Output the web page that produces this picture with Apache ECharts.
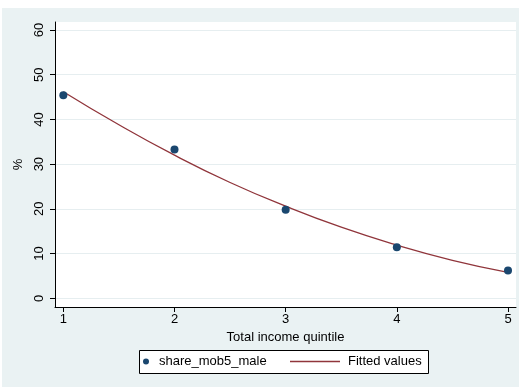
<!DOCTYPE html>
<html><head><meta charset="utf-8">
<script src="https://cdn.jsdelivr.net/npm/echarts@6/dist/echarts.min.js"></script>
<style>html,body{margin:0;padding:0;background:#fff}#c{width:521px;height:388px}</style>
</head><body><div id="c"></div>
<script>
var quintiles = [1, 2, 3, 4, 5];
var shareMob5Male = [45.4, 33.3, 19.8, 11.4, 6.2];
var fitX = [1, 1.5, 2, 2.5, 3, 3.5, 4, 4.5, 5];
var fittedValues = [46.2, 38.8, 32.0, 25.9, 20.6, 15.9, 11.9, 8.5, 5.8];
var xTicks = [1, 2, 3, 4, 5];
var yTicks = [0, 10, 20, 30, 40, 50, 60];

var font = 'Liberation Sans, Arial, sans-serif';
var chart = echarts.init(document.getElementById('c'), null, {renderer: 'canvas'});
chart.setOption({
  animation: false,
  backgroundColor: '#ffffff',
  graphic: [
    {type: 'rect', z: -10, shape: {x: 2, y: 8, width: 517, height: 379}, style: {fill: '#EAF2F3'}},
    {type: 'rect', z: -9, shape: {x: 55, y: 22, width: 461, height: 285}, style: {fill: '#ffffff'}},
    {type: 'rect', z: 5, shape: {x: 139.5, y: 350.5, width: 289, height: 23}, style: {fill: '#ffffff', stroke: '#000', lineWidth: 1}}
  ],
  grid: {left: 55, top: 22, right: 5, bottom: 81, containLabel: false},
  xAxis: {
    type: 'value', min: 0.925, max: 5.072,
    name: 'Total income quintile', nameLocation: 'middle', nameGap: 21,
    nameTextStyle: {fontFamily: font, fontSize: 13, color: '#000'},
    axisLine: {show: true, onZero: false, lineStyle: {color: '#000', width: 1}},
    axisTick: {show: true, length: 5, customValues: xTicks, lineStyle: {color: '#000'}},
    axisLabel: {customValues: xTicks, margin: 6, fontFamily: font, fontSize: 13, color: '#000'},
    splitLine: {show: false}
  },
  yAxis: {
    type: 'value', min: -1.95, max: 61.79,
    name: '%', nameLocation: 'middle', nameGap: 27, nameRotate: 90,
    nameTextStyle: {fontFamily: font, fontSize: 13, color: '#000'},
    axisLine: {show: true, onZero: false, lineStyle: {color: '#000', width: 1}},
    axisTick: {show: true, length: 5, customValues: yTicks, lineStyle: {color: '#000'}},
    axisLabel: {customValues: yTicks, rotate: 90, margin: 9, fontFamily: font, fontSize: 13, color: '#000'},
    splitLine: {show: true, lineStyle: {color: '#E6EEF0', width: 1}}
  },
  legend: [
    {data: [{name: 'share_mob5_male', icon: 'circle'}], left: 143, top: 355, itemWidth: 8, itemHeight: 6, itemGap: 0, padding: 0, z: 10,
     textStyle: {fontFamily: font, fontSize: 13, color: '#000', padding: [0, 0, 0, 4]}},
    {data: [{name: 'Fitted values', icon: 'rect'}], left: 290, top: 355, itemWidth: 50, itemHeight: 1.4, itemGap: 0, padding: 0, z: 10,
     itemStyle: {color: '#90353B', borderWidth: 0},
     textStyle: {fontFamily: font, fontSize: 13, color: '#000', padding: [0, 0, 0, 3]}}
  ],
  series: [
    {name: 'Fitted values', type: 'line', smooth: true, symbol: 'none', z: 2,
     lineStyle: {color: '#90353B', width: 1.3}, itemStyle: {color: '#90353B'},
     data: fitX.map(function (x, i) { return [x, fittedValues[i]]; })},
    {name: 'share_mob5_male', type: 'scatter', symbol: 'circle', symbolSize: 8, z: 3,
     itemStyle: {color: '#1A476F', opacity: 1},
     data: quintiles.map(function (x, i) { return [x, shareMob5Male[i]]; })}
  ]
});
</script></body></html>
